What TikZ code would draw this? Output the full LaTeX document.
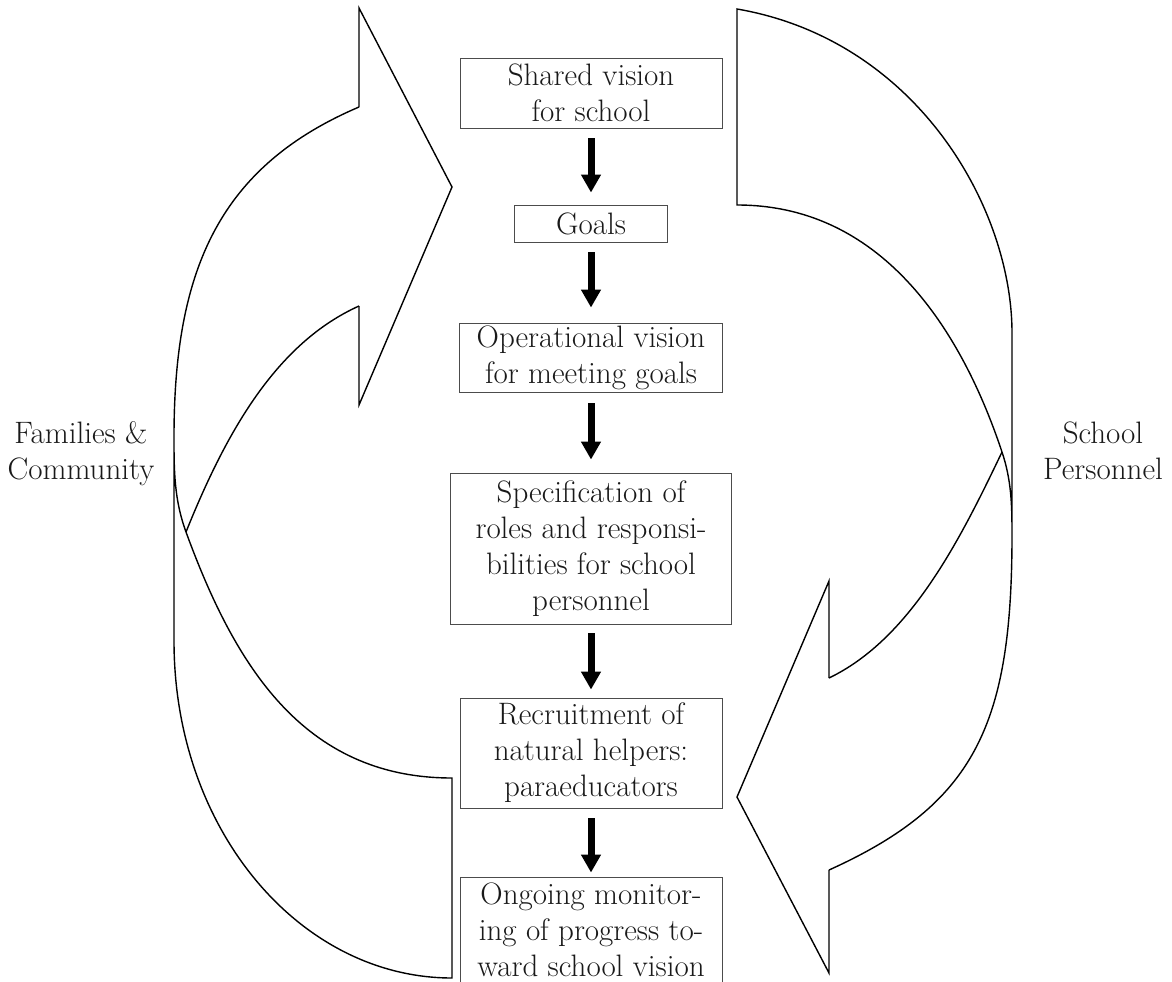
\documentclass[tikz,border=0pt]{standalone}
\usetikzlibrary{arrows.meta}
\tikzset{
  stepbox/.style={draw=black!70, line width=0.9pt, inner sep=0pt, align=center, text=black!90, font=\fontsize{31}{36}\selectfont},
  flow/.style={line width=7pt, -{Triangle[width=19pt,length=18pt]}, shorten <=10pt, shorten >=12pt},
  band/.style={line width=1.4pt, line join=miter},
  side/.style={align=center, text=black!90, font=\fontsize{31}{36}\selectfont}
}
\begin{document}
\begin{tikzpicture}[x=1pt,y=-1pt]
	\useasboundingbox (0,0) rectangle (1172,982);
	\node[stepbox, minimum width=262pt, minimum height=70pt] (vision) at (591,93) {Shared vision\\for school};
	\node[stepbox, minimum width=153pt, minimum height=37pt] (goals) at (591,223.5) {Goals};
	\node[stepbox, minimum width=263pt, minimum height=69pt] (oper) at (591,357.5) {Operational vision\\for meeting goals};
	\node[stepbox, minimum width=281pt, minimum height=151pt] (spec) at (591,548.5) {Specification of\\roles and responsi-\\bilities for school\\personnel};
	\node[stepbox, minimum width=262pt, minimum height=110pt] (recruit) at (591,753) {Recruitment of\\natural helpers:\\paraeducators};
	\node[stepbox, minimum width=262pt, minimum height=115pt, text depth=10pt] (monitor) at (591,934.5) {Ongoing monitor-\\ing of progress to-\\ward school vision};
	\draw[flow] (vision) -- (goals);
	\draw[flow, shorten >=15pt] (goals) -- (oper);
	\draw[flow, shorten <=11pt, shorten >=13pt] (oper) -- (spec);
	\draw[flow, shorten <=9pt, shorten >=8pt] (spec) -- (recruit);
	\draw[flow, shorten >=4pt] (recruit) -- (monitor);
	\node[side] (families) at (81,454) {Families \&\\Community};
	\node[side] (personnel) at (1103,451) {School\\Personnel};
	% left curved arrow
	\draw[band] (359,107) -- (359,8) -- (452,187) -- (359,405) -- (359,306);
	\draw[band] (359,107) .. controls (221,166) and (174,267) .. (174,437) -- (174,641)
		.. controls (174,830) and (300,978) .. (452,978) -- (452,778)
		.. controls (302,778) and (234,663) .. (186,532) .. controls (174,499) and (174,470) .. (174,437);
	\draw[band] (359,306) .. controls (277,343) and (227,430) .. (186,532);
	% right curved arrow
	\draw[band] (829,678) -- (829,581) -- (737,797) -- (829,973) -- (829,870);
	\draw[band] (829,870) .. controls (975,804) and (1012,725) .. (1012,535) -- (1012,333)
		.. controls (1012,208) and (917,40) .. (737,9) -- (737,205)
		.. controls (887,205) and (964,338) .. (1002,452) .. controls (1011.5,480.5) and (1012,505) .. (1012,535);
	\draw[band] (1002,452) .. controls (959,542) and (910,639) .. (829,678);
\end{tikzpicture}
\end{document}
